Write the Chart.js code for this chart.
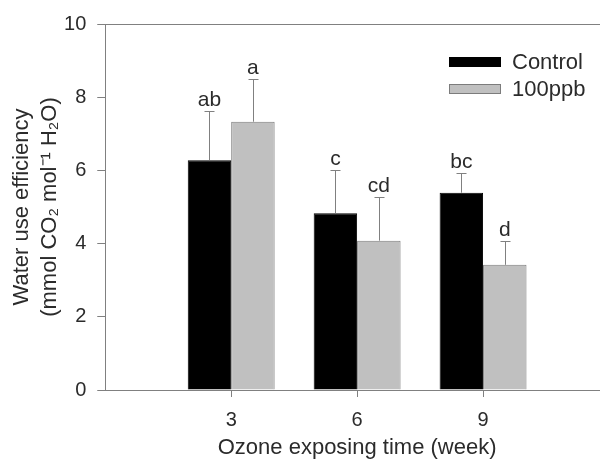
<!DOCTYPE html>
<html>
<head>
<meta charset="utf-8">
<script src="https://cdn.jsdelivr.net/npm/chart.js@4"></script>
<style>
  html, body { margin: 0; padding: 0; overflow: hidden; background: #fff; }
  #wrap { position: relative; width: 609px; height: 461px; }
</style>
</head>
<body>
<div id="wrap"><canvas id="wueChart"></canvas></div>
<script>
// values
const weeks = [3, 6, 9];
const controlMeans = [6.28, 4.83, 5.39];
const controlErrors = [1.34, 1.18, 0.55];
const ozoneMeans = [7.33, 4.08, 3.42];
const ozoneErrors = [1.16, 1.20, 0.65];
const controlLetters = ['ab', 'c', 'bc'];
const ozoneLetters = ['a', 'cd', 'd'];
const seriesNames = ['Control', '100ppb'];

const axisGray = '#808080';
const textColor = '#2b2b2b';
const fontFamily = '"Liberation Sans", Arial, sans-serif';
Chart.defaults.font.family = fontFamily;
Chart.defaults.color = textColor;

// error bars (upper only) + significance letters
const errorBarPlugin = {
  id: 'errorBars',
  afterDatasetsDraw(chart) {
    const ctx = chart.ctx;
    const yScale = chart.scales.y;
    chart.data.datasets.forEach((ds, i) => {
      const meta = chart.getDatasetMeta(i);
      meta.data.forEach((bar, j) => {
        const x = Math.round(bar.x) + 0.5;
        const top = Math.round(yScale.getPixelForValue(ds.data[j].y + ds.errors[j])) + 0.5;
        ctx.save();
        ctx.strokeStyle = axisGray;
        ctx.lineWidth = 1;
        ctx.beginPath();
        ctx.moveTo(x, bar.y);
        ctx.lineTo(x, top);
        ctx.moveTo(x - 5, top);
        ctx.lineTo(x + 5, top);
        ctx.stroke();
        ctx.fillStyle = textColor;
        ctx.font = '21px ' + fontFamily;
        ctx.textAlign = 'center';
        ctx.textBaseline = 'alphabetic';
        ctx.fillText(ds.letters[j], bar.x, top - 6);
        ctx.restore();
      });
    });
  }
};

// legend drawn inside the plot, top right
const boxLegendPlugin = {
  id: 'boxLegend',
  afterDraw(chart, args, opts) {
    const ctx = chart.ctx;
    chart.data.datasets.forEach((ds, i) => {
      const y = opts.y + i * opts.rowGap;
      ctx.save();
      ctx.fillStyle = ds.backgroundColor;
      ctx.fillRect(opts.x, y - 5, 52, 10);
      ctx.strokeStyle = ds.borderColor;
      ctx.lineWidth = 1;
      ctx.strokeRect(opts.x + 0.5, y - 4.5, 51, 9);
      ctx.fillStyle = textColor;
      ctx.font = '22px ' + fontFamily;
      ctx.textAlign = 'left';
      ctx.textBaseline = 'middle';
      ctx.fillText(ds.label, opts.x + 63, y + 1);
      ctx.restore();
    });
  }
};

new Chart(document.getElementById('wueChart'), {
  type: 'bar',
  data: {
    datasets: [
      {
        label: seriesNames[0],
        data: weeks.map((w, i) => ({ x: w, y: controlMeans[i] })),
        errors: controlErrors,
        letters: controlLetters,
        backgroundColor: '#000000',
        borderColor: '#000000',
        borderWidth: 1
      },
      {
        label: seriesNames[1],
        data: weeks.map((w, i) => ({ x: w, y: ozoneMeans[i] })),
        errors: ozoneErrors,
        letters: ozoneLetters,
        backgroundColor: '#c0c0c0',
        borderColor: '#7c7c7c',
        borderWidth: 1
      }
    ]
  },
  options: {
    responsive: true,
    maintainAspectRatio: false,
    animation: false,
    categoryPercentage: 0.69,
    barPercentage: 1.0,
    layout: { autoPadding: false, padding: { top: 24, left: 0, right: 0, bottom: 0 } },
    plugins: {
      legend: { display: false },
      tooltip: { enabled: false },
      boxLegend: { x: 449, y: 62, rowGap: 27 }
    },
    scales: {
      x: {
        type: 'linear',
        min: 0,
        max: 12,
        offset: false,
        grid: {
          offset: false,
          drawOnChartArea: false,
          tickLength: 7,
          tickColor: (c) => weeks.includes(c.tick.value) ? axisGray : 'rgba(0,0,0,0)'
        },
        border: { display: true, color: axisGray, width: 1 },
        ticks: {
          stepSize: 3,
          padding: 0,
          font: { size: 20, lineHeight: 2.3 },
          callback: (v) => weeks.includes(v) ? String(v) : ''
        },
        title: {
          display: true,
          text: 'Ozone exposing time (week)',
          font: { size: 22, lineHeight: 1.2 },
          padding: { top: -8.4, bottom: 0 }
        }
      },
      xTop: {
        type: 'linear',
        position: 'top',
        min: 0,
        max: 12,
        grid: { display: false, drawTicks: false },
        ticks: { display: false },
        border: { display: true, color: axisGray, width: 1 }
      },
      y: {
        min: 0,
        max: 10,
        grid: {
          drawOnChartArea: false,
          tickLength: 8,
          tickColor: axisGray
        },
        border: { display: true, color: axisGray, width: 1 },
        ticks: {
          stepSize: 2,
          padding: 11,
          font: { size: 20 }
        },
        title: {
          display: true,
          text: ['Water use efficiency', '(mmol CO\u2082 mol\u207B\u00B9 H\u2082O)'],
          font: { size: 22, lineHeight: 1.273 },
          padding: { top: 8, bottom: -11 }
        }
      }
    }
  },
  plugins: [errorBarPlugin, boxLegendPlugin]
});
</script>
</body>
</html>
